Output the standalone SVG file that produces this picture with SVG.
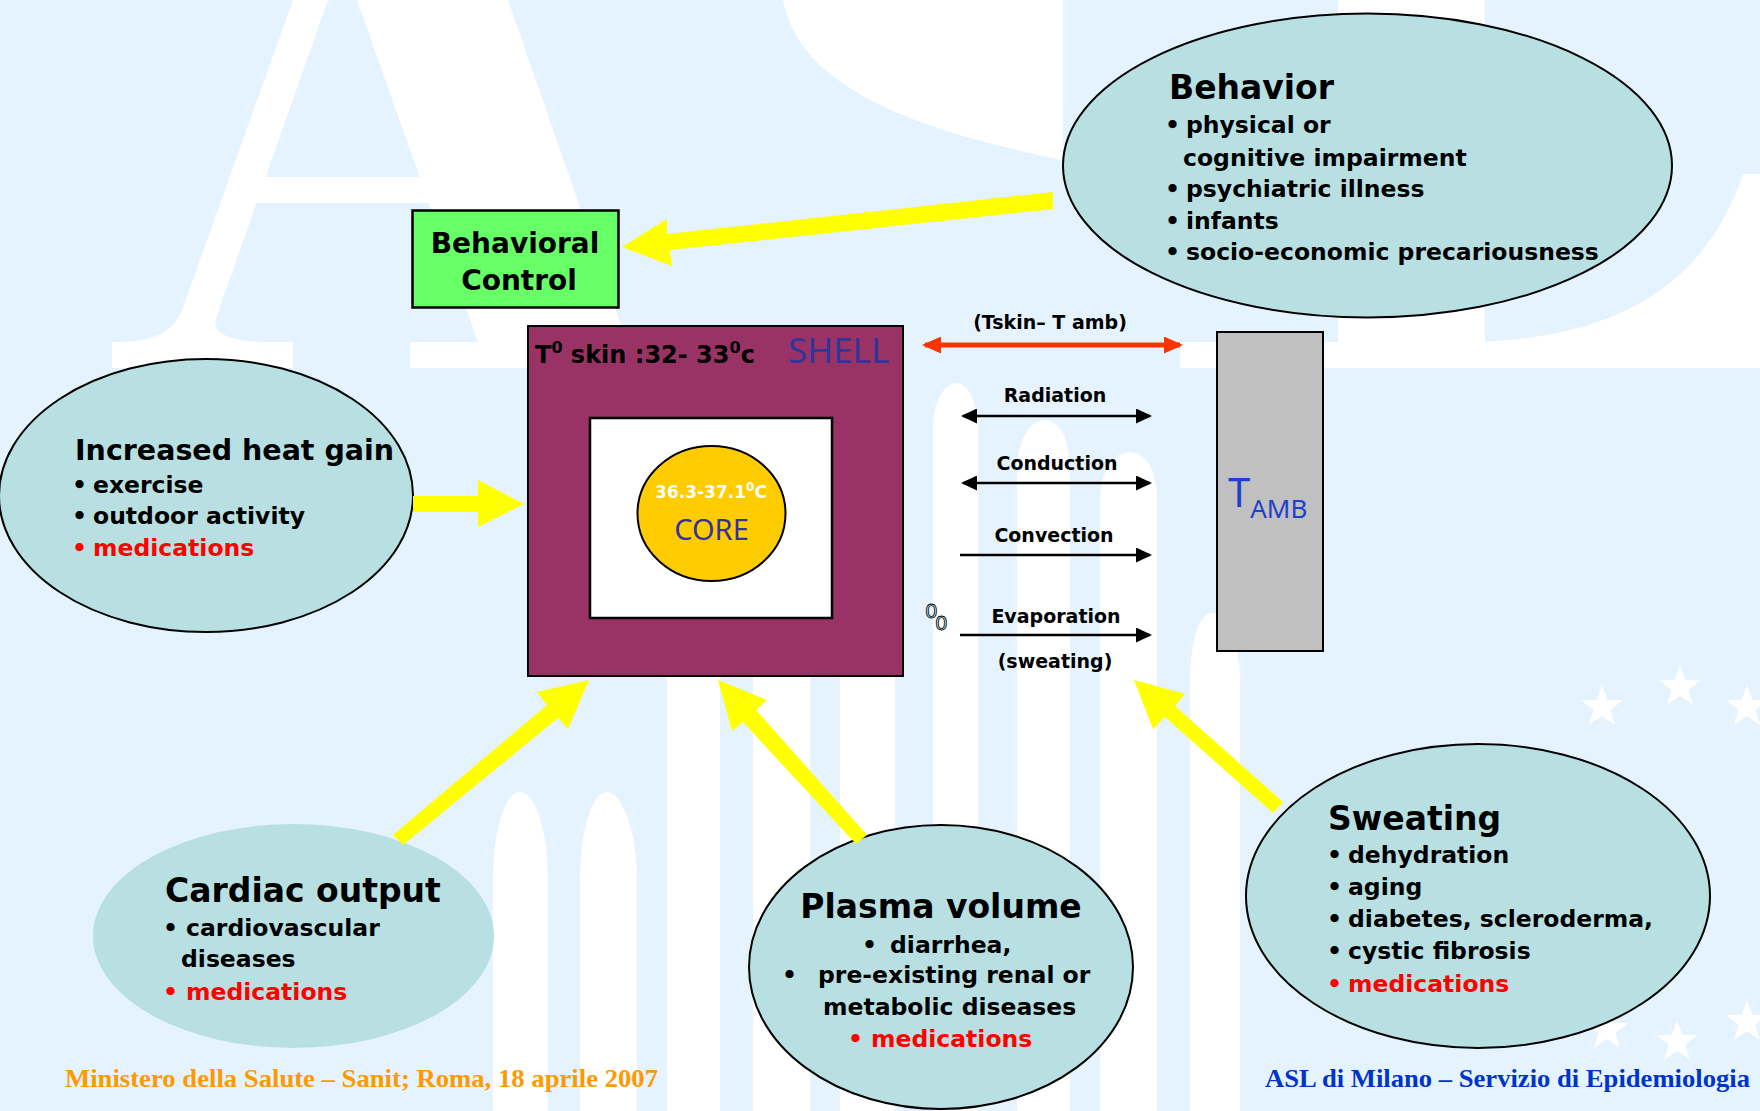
<svg xmlns="http://www.w3.org/2000/svg" width="1760" height="1111" viewBox="0 0 1760 1111">
<style>
.b{font-family:"DejaVu Sans",Verdana,sans-serif;font-weight:bold;fill:#000}
.t{font-size:33px}
.l{font-size:23.5px}
.lab{font-size:19px}
.red{fill:#FF0000}
.node{fill:#B8E0E2;stroke:#000;stroke-width:2}
.yel{fill:#FFFF00}
.wm{fill:#FFFFFF}
.n{font-family:"Noto Sans","DejaVu Sans",sans-serif}
.ft{font-family:"Liberation Serif","Times New Roman",serif;font-weight:bold;font-size:25px}
</style>
<defs>
<path id="star" d="M0,-22 L5.29,-7.28 L20.92,-6.8 L8.56,2.78 L12.93,17.8 L0,9 L-12.93,17.8 L-8.56,2.78 L-20.92,-6.8 L-5.29,-7.28 Z"/>
<marker id="ah" markerUnits="userSpaceOnUse" markerWidth="16" markerHeight="15" refX="14" refY="7.5" orient="auto-start-reverse">
<path d="M0,0 L16,7.5 L0,15 Z" fill="#000"/>
</marker>
<marker id="rh" markerUnits="userSpaceOnUse" markerWidth="19" markerHeight="17" refX="16" refY="8.5" orient="auto-start-reverse">
<path d="M0,0 L19,8.5 L0,17 Z" fill="#FF3300"/>
</marker>
</defs>
<rect width="1760" height="1111" fill="#E4F3FD"/>
<g id="watermark" class="wm">
<path d="M293,0 L328,0 L216,318 C212,332 225,340 260,342 L293,342 L293,368 L112,368 L112,342 C150,342 172,335 182,310 Z"/>
<path d="M357,0 L508,0 L627,342 L660,342 L660,368 L410,368 L410,342 L478,342 Z"/>
<path d="M265,177 L425,177 L433,203 L253,203 Z"/>
<path d="M783,0 C795,60 850,118 1063,160 L1063,0 Z"/>
<rect x="1338" y="0" width="147" height="368"/>
<rect x="1180" y="342" width="580" height="26"/>
<path d="M1743,174 L1760,174 L1760,342 L1485,342 C1600,335 1700,300 1743,174 Z"/>
<path d="M493,1111 L493,880 C493,830 505,792 520,792 C535,792 548,830 548,880 L548,1111 Z"/>
<path d="M580,1111 L580,880 C580,830 592,792 607,792 C622,792 637,830 637,880 L637,1111 Z"/>
<rect x="667" y="676" width="53" height="435"/>
<rect x="753" y="676" width="57" height="435"/>
<rect x="840" y="676" width="55" height="435"/>
<path d="M933,1111 L933,430 C933,400 945,383 956,383 C967,383 978,400 978,430 L978,1111 Z"/>
<path d="M1017,1111 L1017,470 C1017,440 1030,420 1045,420 C1060,420 1070,440 1070,470 L1070,1111 Z"/>
<path d="M1100,1111 L1100,500 C1100,470 1115,452 1130,452 C1145,452 1157,470 1157,500 L1157,1111 Z"/>
<path d="M1190,1111 L1190,680 C1190,640 1200,613 1212,613 C1224,613 1240,640 1240,680 L1240,1111 Z"/>
<use href="#star" x="1602" y="707"/>
<use href="#star" x="1680" y="687"/>
<use href="#star" x="1747" y="707"/>
<use href="#star" x="1607" y="1030"/>
<use href="#star" x="1677" y="1042"/>
<use href="#star" x="1747" y="1022"/>
</g>
<g id="behavioral-control">
<rect x="412.5" y="210.5" width="206" height="97" fill="#66FF66" stroke="#000" stroke-width="2.5"/>
<text class="b" font-size="28" x="515" y="253" text-anchor="middle">Behavioral</text>
<text class="b" font-size="28" x="519" y="290" text-anchor="middle">Control</text>
</g>
<g id="shell">
<rect x="528" y="326" width="375" height="350" fill="#993366" stroke="#000" stroke-width="2"/>
<text class="b" font-size="24" x="535" y="363">T<tspan font-size="16" dy="-10">0</tspan><tspan dy="10"> skin :32- 33</tspan><tspan font-size="16" dy="-10">0</tspan><tspan dy="10">c</tspan></text>
<text class="n" font-size="35" x="788" y="363" fill="#333399">SHELL</text>
</g>
<g id="core">
<rect x="590" y="418" width="242" height="200" fill="#FFFFFF" stroke="#000" stroke-width="2.5"/>
<ellipse cx="711.5" cy="513.5" rx="74" ry="67.5" fill="#FFCC00" stroke="#000" stroke-width="2"/>
<text class="b" font-size="17" x="711" y="498" text-anchor="middle" fill="#FFFFFF" style="fill:#FFFFFF">36.3-37.1<tspan font-size="12" dy="-7">0</tspan><tspan dy="7">C</tspan></text>
<text class="n" font-size="29" x="711.5" y="540" text-anchor="middle" fill="#333399">CORE</text>
</g>
<g id="tamb">
<rect x="1217" y="332" width="106" height="319" fill="#C0C0C0" stroke="#000" stroke-width="2"/>
<text class="n" font-size="40" x="1228" y="507" fill="#1F3FCC">T<tspan font-size="26" dy="11">AMB</tspan></text>
</g>
<g id="behavior">
<ellipse class="node" cx="1367.5" cy="165.5" rx="304.5" ry="152"/>
<text class="b t" x="1169" y="99">Behavior</text>
<text class="b l" x="1165" y="133">•</text><text class="b l" x="1186" y="133">physical or</text>
<text class="b l" x="1183" y="166">cognitive impairment</text>
<text class="b l" x="1165" y="197">•</text><text class="b l" x="1186" y="197">psychiatric illness</text>
<text class="b l" x="1165" y="229">•</text><text class="b l" x="1186" y="229">infants</text>
<text class="b l" x="1165" y="260">•</text><text class="b l" x="1186" y="260">socio-economic precariousness</text>
</g>
<g id="heat-gain">
<ellipse class="node" cx="206" cy="495.5" rx="207" ry="136.5"/>
<text class="b" font-size="28.5" x="75" y="460">Increased heat gain</text>
<text class="b l" x="72" y="493">•</text><text class="b l" x="93" y="493">exercise</text>
<text class="b l" x="72" y="524">•</text><text class="b l" x="93" y="524">outdoor activity</text>
<text class="b l red" x="72" y="556">•</text><text class="b l red" x="93" y="556">medications</text>
</g>
<g id="cardiac-output">
<ellipse cx="293.5" cy="936" rx="200.5" ry="112" fill="#B8E0E2"/>
<text class="b t" x="165" y="902">Cardiac output</text>
<text class="b l" x="163" y="936">•</text><text class="b l" x="186" y="936">cardiovascular</text>
<text class="b l" x="181" y="967">diseases</text>
<text class="b l red" x="163" y="1000">•</text><text class="b l red" x="186" y="1000">medications</text>
</g>
<g id="plasma-volume">
<ellipse class="node" cx="941" cy="967" rx="192" ry="142"/>
<text class="b t" x="941" y="918" text-anchor="middle">Plasma volume</text>
<text class="b l" x="862" y="953">•</text><text class="b l" x="890" y="953">diarrhea,</text>
<text class="b l" x="782" y="983">•</text><text class="b l" x="818" y="983">pre-existing renal or</text>
<text class="b l" x="823" y="1015">metabolic diseases</text>
<text class="b l red" x="848" y="1047">•</text><text class="b l red" x="871" y="1047">medications</text>
</g>
<g id="sweating">
<ellipse class="node" cx="1478" cy="896" rx="232" ry="152"/>
<text class="b t" x="1328" y="830">Sweating</text>
<text class="b l" x="1327" y="863">•</text><text class="b l" x="1348" y="863">dehydration</text>
<text class="b l" x="1327" y="895">•</text><text class="b l" x="1348" y="895">aging</text>
<text class="b l" x="1327" y="927">•</text><text class="b l" x="1348" y="927">diabetes, scleroderma,</text>
<text class="b l" x="1327" y="959">•</text><text class="b l" x="1348" y="959">cystic fibrosis</text>
<text class="b l red" x="1327" y="992">•</text><text class="b l red" x="1348" y="992">medications</text>
</g>
<g id="exchange-labels">
<text class="b lab" x="1050" y="329" text-anchor="middle">(Tskin– T amb)</text>
<text class="b lab" x="1055" y="402" text-anchor="middle">Radiation</text>
<text class="b lab" x="1057" y="470" text-anchor="middle">Conduction</text>
<text class="b lab" x="1054" y="542" text-anchor="middle">Convection</text>
<text class="b lab" x="1056" y="623" text-anchor="middle">Evaporation</text>
<text class="b lab" x="1055" y="668" text-anchor="middle">(sweating)</text>
<text font-family="DejaVu Sans,sans-serif" font-size="20" x="925" y="618" fill="#B8E0E2" stroke="#000" stroke-width="0.8">0</text>
<text font-family="DejaVu Sans,sans-serif" font-size="20" x="935" y="630" fill="#B8E0E2" stroke="#000" stroke-width="0.8">0</text>
</g>
<g id="connectors">
<line x1="925" y1="345" x2="1180" y2="345" stroke="#FF3300" stroke-width="5" marker-start="url(#rh)" marker-end="url(#rh)"/>
<line x1="963" y1="416" x2="1150" y2="416" stroke="#000" stroke-width="2.5" marker-start="url(#ah)" marker-end="url(#ah)"/>
<line x1="963" y1="483" x2="1150" y2="483" stroke="#000" stroke-width="2.5" marker-start="url(#ah)" marker-end="url(#ah)"/>
<line x1="960" y1="555" x2="1150" y2="555" stroke="#000" stroke-width="2.5" marker-end="url(#ah)"/>
<line x1="960" y1="635" x2="1150" y2="635" stroke="#000" stroke-width="2.5" marker-end="url(#ah)"/>
<polygon class="yel" points="413,496 478,496 478,480 524,504 478,527 478,512 413,512"/>
<polygon class="yel" points="622,247 667,219 667,234 1053,192 1053,209 670,250 672,266"/>
<polygon class="yel" points="589,680 537,692 547,705 393,835 403,845 558,718 568,729"/>
<polygon class="yel" points="718,680 767,700 756,710 867,835 856,844 743,722 732,731"/>
<polygon class="yel" points="1134,680 1185,694 1175,706 1283,802 1273,813 1165,717 1153,729"/>
</g>
<g id="footer">
<text class="ft" x="65" y="1087" fill="#FF9900" textLength="593" lengthAdjust="spacingAndGlyphs">Ministero della Salute – Sanit; Roma, 18 aprile 2007</text>
<text class="ft" x="1265" y="1087" fill="#0033CC" textLength="485" lengthAdjust="spacingAndGlyphs">ASL di Milano – Servizio di Epidemiologia</text>
</g>
</svg>
